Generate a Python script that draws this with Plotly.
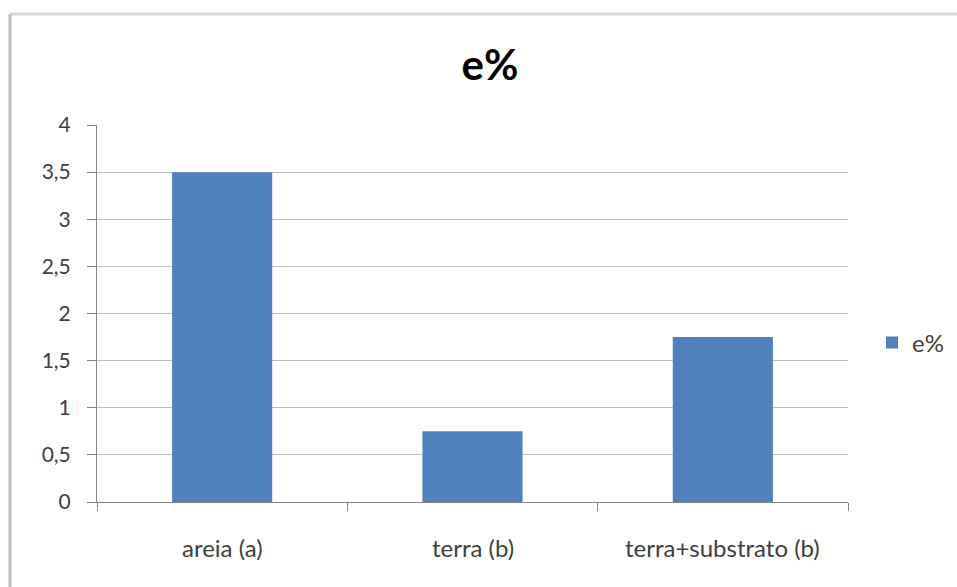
import plotly.graph_objects as go

categories = ["areia (a)", "terra (b)", "terra+substrato (b)"]
values = [3.5, 0.75, 1.75]
series_name = "e%"
title_text = "e%"
y_ticks = [0, 0.5, 1, 1.5, 2, 2.5, 3, 3.5, 4]

W, H = 957, 587
L, R, T, B = 97, 848, 125, 502
pw, ph = R - L, B - T

def px(x):
    return (x - L) / pw

def py(y):
    return (B - y) / ph

font_family = "Lato, 'Open Sans', sans-serif"
bar_color = "#4F81BD"
grid_color = "#BEBEBE"
text_color = "#404040"

xpos = list(range(len(categories)))

fig = go.Figure()
fig.add_trace(go.Bar(
    x=xpos, y=values, name=series_name, width=0.4,
    marker=dict(color=bar_color, line=dict(width=0)),
    showlegend=True,
))

annotations = [
    dict(x=xi, y=py(547), xref="x", yref="paper", text=c, showarrow=False,
         font=dict(family=font_family, size=24, color=text_color),
         xanchor="center", yanchor="middle")
    for xi, c in zip(xpos, categories)
]

shapes = [
    dict(type="line", xref="paper", yref="paper", x0=px(10), x1=px(957), y0=py(14), y1=py(14),
         line=dict(color="#D9D9D9", width=3)),
    dict(type="line", xref="paper", yref="paper", x0=px(10), x1=px(10), y0=py(14), y1=py(587),
         line=dict(color="#BFBFBF", width=3)),
]

fig.update_layout(
    width=W, height=H,
    margin=dict(l=L, r=W - R, t=T, b=H - B, pad=0, autoexpand=False),
    paper_bgcolor="white", plot_bgcolor="white",
    separators=",.",
    title=dict(text="<b>" + title_text + "</b>", x=490 / W, y=1 - 65 / H,
               xanchor="center", yanchor="middle", xref="container", yref="container",
               font=dict(family=font_family, size=42, color="black")),
    xaxis=dict(range=[-0.5, 2.5], tickmode="array", tickvals=[-0.5, 0.5, 1.5, 2.5],
               ticktext=["", "", "", ""], ticks="outside", ticklen=8, tickcolor="#868686",
               showgrid=False, showline=True, linecolor="#868686", linewidth=1,
               zeroline=False, fixedrange=True),
    yaxis=dict(range=[0, 4], tickmode="array", tickvals=y_ticks, ticks="outside",
               ticklen=9, tickcolor="#868686", showgrid=True, gridcolor=grid_color,
               gridwidth=1, showline=True, linecolor="#868686", linewidth=1,
               zeroline=False, ticklabelstandoff=12,
               tickfont=dict(family=font_family, size=21, color=text_color)),
    legend=dict(x=px(872), y=py(343), xanchor="left", yanchor="middle",
                font=dict(family=font_family, size=24, color=text_color),
                bgcolor="rgba(0,0,0,0)", itemwidth=30),
    annotations=annotations,
    shapes=shapes,
)

fig.write_html("out.html")
